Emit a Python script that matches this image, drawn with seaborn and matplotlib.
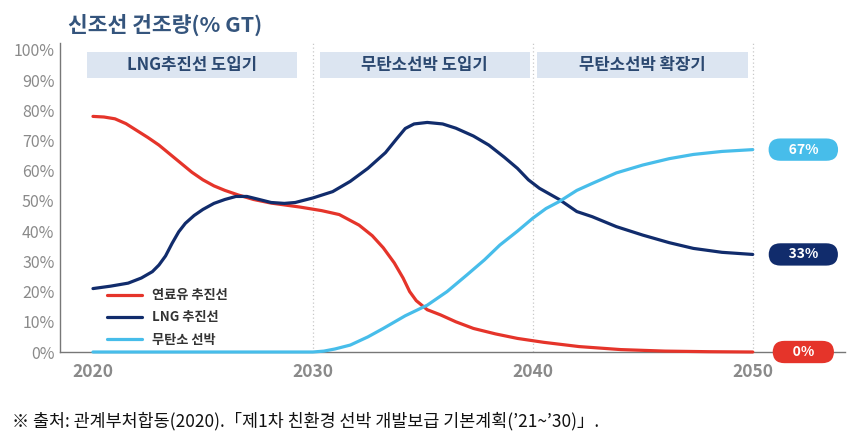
import pandas as pd
import seaborn as sns
import matplotlib.pyplot as plt
from matplotlib.patches import Rectangle

# ==========================================
# 데이터 (그림에서 읽은 값, 단위: % GT)
# ==========================================
oil_years = [2020.0, 2020.5, 2021.0, 2021.5, 2022.0, 2022.5, 2023.0, 2023.5, 2024.0, 2024.5,
             2025.0, 2025.5, 2026.0, 2026.6, 2027.3, 2028.1, 2029.4,
             2030.4, 2031.2, 2032.1, 2032.7, 2033.2, 2033.7, 2034.1, 2034.4, 2034.7, 2035.2,
             2035.8, 2036.5, 2037.3, 2038.3, 2039.3, 2040.5, 2042.1, 2044.0, 2046.0, 2048.0, 2050.0]
oil_share = [78, 77.8, 77.2, 75.6, 73.3, 71, 68.5, 65.5, 62.5, 59.5,
             57, 55, 53.5, 52, 50.5, 49.3, 48,
             46.8, 45.5, 42, 38.5, 34.5, 29.5, 24.5, 20, 17, 14,
             12.3, 10, 7.8, 6, 4.5, 3.2, 1.8, 0.8, 0.3, 0.1, 0]

lng_years = [2020.0, 2020.8, 2021.6, 2022.2, 2022.7, 2023.0, 2023.3, 2023.6, 2023.9, 2024.2,
             2024.6, 2025.0, 2025.5, 2026.0, 2026.5, 2027.0, 2027.5, 2028.1, 2028.7, 2029.2,
             2030.0, 2030.9, 2031.7, 2032.5, 2033.3, 2033.8, 2034.2, 2034.6, 2035.2, 2035.9,
             2036.5, 2037.3, 2038.0, 2038.7, 2039.3, 2039.8, 2040.3, 2041.2, 2042.0, 2042.7,
             2043.8, 2045.0, 2046.2, 2047.3, 2048.6, 2050.0]
lng_share = [21, 21.8, 22.8, 24.5, 26.6, 28.8, 31.8, 36, 39.8, 42.6,
             45.2, 47.2, 49.2, 50.5, 51.5, 51.5, 50.6, 49.5, 49.2, 49.5,
             51, 53.1, 56.5, 60.8, 66, 70.5, 74, 75.5, 76, 75.5,
             74.1, 71.5, 68.5, 64.5, 60.8, 57, 54.2, 50.5, 46.5, 44.8,
             41.5, 38.7, 36.2, 34.3, 33, 32.3]

zero_years = [2020.0, 2030.0, 2030.5, 2031.0, 2031.7, 2032.5, 2033.2, 2034.2, 2035.2, 2036.1,
              2037.0, 2037.8, 2038.5, 2039.3, 2040.0, 2040.6, 2041.2, 2042.0, 2042.7, 2043.8,
              2045.0, 2046.2, 2047.3, 2048.6, 2050.0]
zero_share = [0, 0, 0.3, 1, 2.3, 5, 7.8, 12, 15.5, 20,
              25.5, 30.5, 35.4, 40, 44.3, 47.5, 49.8, 53.5, 55.8, 59.3,
              61.9, 64, 65.4, 66.4, 67]

series_names = ['연료유 추진선', 'LNG 추진선', '무탄소 선박']
series_colors = ['#e5342a', '#112c6c', '#47bdea']
end_labels = ['0%', '33%', '67%']
end_values = [0, 32.3, 67]

phase_labels = ['LNG추진선 도입기', '무탄소선박 도입기', '무탄소선박 확장기']
phase_spans = [(2019.73, 2029.27), (2030.32, 2039.86), (2040.18, 2049.77)]

df = pd.concat([
    pd.DataFrame({'year': oil_years, 'share': oil_share, 'type': series_names[0]}),
    pd.DataFrame({'year': lng_years, 'share': lng_share, 'type': series_names[1]}),
    pd.DataFrame({'year': zero_years, 'share': zero_share, 'type': series_names[2]}),
])

# ==========================================
# 그림
# ==========================================
sns.set_theme(style='white')
plt.rcParams['font.family'] = ['Noto Sans CJK KR', 'DejaVu Sans']

fig = plt.figure(figsize=(8.52, 4.41), dpi=100)
ax = fig.add_axes([0.0704, 0.2018, 0.921, 0.7007])

# 시기 구분 배경 박스
for (x0, x1), lab in zip(phase_spans, phase_labels):
    ax.add_patch(Rectangle((x0, 90.7), x1 - x0, 8.6, facecolor='#dce5f1', edgecolor='none', zorder=1))
    ax.text((x0 + x1) / 2, 95, lab, ha='center', va='center', fontsize=12,
            style='italic', fontweight='bold', color='#2b4870', zorder=2)

# 점선 구분선
for xv in [2030, 2040, 2050]:
    ax.axvline(xv, color='#c8c8c8', linestyle=(0, (1, 2)), linewidth=0.9, zorder=0)

sns.lineplot(data=df, x='year', y='share', hue='type', hue_order=series_names,
             palette=series_colors, linewidth=2.3, ax=ax, clip_on=False, zorder=3)

# 오른쪽 끝 값 라벨 (알약 모양)
for lab, val, col in zip(end_labels, end_values, series_colors):
    ax.text(2052.3, val, '     ' + lab + '     ', ha='center', va='center', fontsize=10,
            fontweight='bold', color='white', zorder=5,
            bbox=dict(boxstyle='round,pad=0.3,rounding_size=0.85', fc=col, ec='none'))

ax.set_xlim(2018.5, 2054.18)
ax.set_ylim(0, 102.3)
ax.set_yticks(range(0, 101, 10))
ax.set_yticklabels([f'{v}%' for v in range(0, 101, 10)])
ax.set_xticks([2020, 2030, 2040, 2050])
ax.tick_params(axis='y', length=0, pad=4, labelsize=11.5, labelcolor='#8a8a8a')
ax.tick_params(axis='x', length=0, pad=8, labelsize=12.5, labelcolor='#8a8a8a')
for t in ax.get_xticklabels():
    t.set_fontweight('bold')
ax.set_xlabel('')
ax.set_ylabel('')
for s in ['top', 'right']:
    ax.spines[s].set_visible(False)
for s in ['left', 'bottom']:
    ax.spines[s].set_color('#777777')
    ax.spines[s].set_linewidth(1.0)

leg = ax.legend(loc='upper left', bbox_to_anchor=(0.052, 0.228), frameon=False,
                handlelength=2.65, handletextpad=0.75, labelspacing=0.62, borderpad=0,
                fontsize=9.5)
for t in leg.get_texts():
    t.set_fontweight('bold')
    t.set_color('#333333')

fig.text(0.08, 0.943, '신조선 건조량(% GT)', fontsize=15.5, fontweight='bold', color='#35557d',
         ha='left', va='center')
fig.text(0.014, 0.045, '※ 출처: 관계부처합동(2020).「제1차 친환경 선박 개발보급 기본계획(’21~’30)」.',
         fontsize=12.5, color='#111111', ha='left', va='center')

plt.savefig('out.png', dpi=100)
